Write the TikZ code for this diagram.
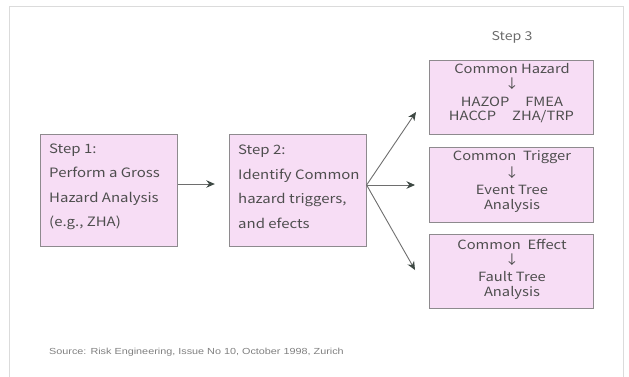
\documentclass[tikz,border=0pt]{standalone}
\usepackage{fontspec}
\setmainfont[FakeStretch=1.16]{Noto Sans CJK JP}
\newfontfamily\srcfont[FakeStretch=1.23]{Liberation Sans}
\usetikzlibrary{arrows.meta}
\definecolor{boxfill}{HTML}{F7DDF5}
\definecolor{boxline}{HTML}{8E8A8E}
\definecolor{inktext}{HTML}{4E4E4E}
\definecolor{arrowline}{HTML}{6E6E6E}
\definecolor{arrowhead}{HTML}{3E4944}
\tikzset{
  stepbox/.style={draw=boxline, line width=0.8pt, fill=boxfill, inner sep=0pt},
  bigbox/.style={stepbox, minimum width=137pt, minimum height=112pt},
  methodbox/.style={stepbox, minimum width=164pt, minimum height=74pt},
  steptext/.style={text=inktext, font=\fontsize{12.9}{24.5}\selectfont, align=left, anchor=west, inner sep=0pt},
  methodtext/.style={text=inktext, font=\fontsize{12.7}{14}\selectfont, inner sep=0pt},
  flow/.style={draw=arrowline, line width=0.9pt, -{Stealth[length=8.5pt, width=7.5pt, fill=arrowhead, color=arrowhead]}},
}
\begin{document}
\begin{tikzpicture}[x=1pt, y=-1pt]
  \useasboundingbox (0,0) rectangle (629,376);
  % outer frame, open at the bottom
  \draw[color=black!14, line width=0.9pt] (9,380) -- (9,6.5) -- (623,6.5) -- (623,380);

  % step boxes
  \node[bigbox] (b1) at (109.2,190) {};
  \node[bigbox] (b2) at (297.7,190) {};
  \node[methodbox] (h) at (511,97) {};
  \node[methodbox, minimum height=75pt] (t) at (511,184.5) {};
  \node[methodbox] (e) at (511,271) {};

  % step texts
  \node[steptext] (b1t) at (49,187) {Step 1:\\Perform a Gross\\Hazard Analysis\\(e.g., ZHA)};
  \node[steptext] (b2t) at (238,187) {Step 2:\\Identify Common\\hazard triggers,\\and efects};

  \node[text=black!58, font=\fontsize{12.2}{14}\selectfont] (s3) at (512,37) {Step 3};

  % common hazard
  \node[methodtext] (h1) at (512,69) {Common Hazard};
  \node[methodtext] (h2) at (512,84) {↓};
  \node[methodtext] (h3) at (512,102) {HAZOP\hspace{16pt}FMEA};
  \node[methodtext] (h4) at (511.5,117) {HACCP\hspace{16pt}ZHA/TRP};
  % common trigger
  \node[methodtext] (t1) at (512,157) {Common\ \ Trigger};
  \node[methodtext] (t2) at (512,173) {↓};
  \node[methodtext] (t3) at (512,190) {Event Tree};
  \node[methodtext] (t4) at (512,206) {Analysis};
  % common effect
  \node[methodtext] (e1) at (512,244) {Common\ \ Effect};
  \node[methodtext] (e2) at (512,260) {↓};
  \node[methodtext] (e3) at (512,277) {Fault Tree};
  \node[methodtext] (e4) at (512,293) {Analysis};

  % connectors
  \draw[flow, shorten >=14pt] ([yshift=6pt]b1.east) -- ([yshift=6pt]b2.west);
  \coordinate (fan) at ([yshift=5pt]b2.east);
  \coordinate (up) at (416,112);
  \coordinate (mid) at (415,185);
  \coordinate (down) at (415,270);
  \draw[flow] (fan) -- (up);
  \draw[flow] (fan) -- (mid);
  \draw[flow] (fan) -- (down);

  % source note
  \node[anchor=west, text=black!50, font=\srcfont\fontsize{8.8}{11}\selectfont, inner sep=0pt] (src) at (49,352)
    {Source: Risk Engineering, Issue No 10, October 1998, Zurich};
\end{tikzpicture}
\end{document}
